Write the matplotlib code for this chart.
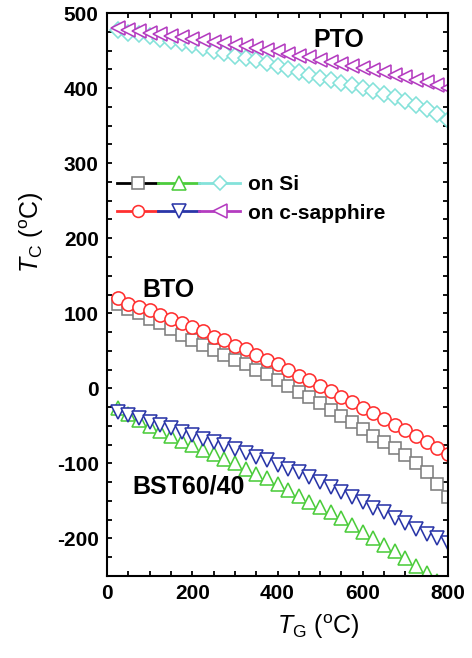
import matplotlib
matplotlib.use("Agg")
import matplotlib.pyplot as plt
from matplotlib.lines import Line2D
from matplotlib.legend_handler import HandlerTuple
from matplotlib.ticker import MultipleLocator

plt.rcParams['font.family'] = ['Liberation Sans', 'DejaVu Sans']
plt.rcParams['mathtext.fontset'] = 'custom'
plt.rcParams['mathtext.rm'] = 'Liberation Sans'
plt.rcParams['mathtext.it'] = 'Liberation Sans:italic'
plt.rcParams['mathtext.bf'] = 'Liberation Sans:bold'
plt.rcParams['axes.unicode_minus'] = False

# Growth temperature T_G (deg C)
tg = [25, 50, 75, 100, 125, 150, 175, 200, 225, 250, 275, 300, 325, 350, 375, 400,
      425, 450, 475, 500, 525, 550, 575, 600, 625, 650, 675, 700, 725, 750, 775, 800]

# BTO
bto_si = [113, 106, 100, 93, 87, 79, 71, 65, 58, 51, 45, 38, 32, 25, 19, 11,
          3, -5, -12, -20, -29, -37, -45, -54, -63, -71, -80, -89, -99, -112, -127, -145]
bto_sap = [120, 113, 109, 104, 98, 92, 87, 82, 76, 69, 64, 57, 52, 45, 38, 32,
           25, 17, 11, 3, -4, -11, -18, -26, -33, -41, -49, -56, -64, -72, -79, -87]
# BST60/40
bst_si = [-26, -34, -42, -50, -57, -63, -70, -76, -82, -88, -94, -100, -107, -114, -120, -128,
          -136, -144, -151, -158, -165, -173, -182, -191, -200, -209, -217, -226, -236, -246, -256, -266]
bst_sap = [-31, -36, -40, -45, -49, -53, -58, -62, -67, -72, -76, -81, -86, -92, -96, -102,
           -107, -112, -118, -125, -131, -138, -145, -151, -159, -165, -173, -180, -187, -194, -199, -206]
# PTO
pto_si = [477, 474, 472, 469, 466, 463, 460, 457, 454, 450, 447, 443, 440, 437, 433, 430,
          426, 422, 418, 414, 411, 407, 404, 400, 396, 392, 388, 383, 378, 372, 365, 357]
pto_sap = [480, 478, 476, 474, 472, 470, 468, 466, 464, 462, 460, 458, 456, 453, 451, 449,
           446, 443, 441, 438, 435, 432, 430, 427, 424, 421, 418, 415, 411, 408, 404, 400]

x_ticks = [0, 200, 400, 600, 800]
y_ticks = [-200, -100, 0, 100, 200, 300, 400, 500]
legend_labels = ['on Si', 'on c-sapphire']

C_GRAY = '#7d7d7d'
C_GREEN = '#4ccc3c'
C_CYAN = '#84e2da'
C_RED = '#ff3030'
C_BLUE = '#2a36a8'
C_MAG = '#b43cc0'

fig = plt.figure(figsize=(4.72, 6.58), dpi=100)
ax = fig.add_axes([0.2267, 0.1246, 0.7225, 0.8556])

mew = 1.15
series = [
    (pto_si, 'D', C_CYAN, 8.0),
    (pto_sap, '<', C_MAG, 10.5),
    (bto_si, 's', C_GRAY, 8.5),
    (bto_sap, 'o', C_RED, 9.5),
    (bst_si, '^', C_GREEN, 10.5),
    (bst_sap, 'v', C_BLUE, 10.5),
]
for ys, m, c, ms in series:
    ax.plot(tg, ys, linestyle='none', marker=m, markersize=ms,
            markerfacecolor='white', markeredgecolor=c, markeredgewidth=mew,
            clip_on=True)

ax.set_xlim(0, 800)
ax.set_ylim(-250, 500)
ax.set_xticks(x_ticks)
ax.set_yticks(y_ticks)
ax.xaxis.set_minor_locator(MultipleLocator(50))
ax.yaxis.set_minor_locator(MultipleLocator(25))
ax.tick_params(which='both', direction='in', top=True, right=True,
               length=3.5, width=1.3)
ax.tick_params(which='major', labelsize=15, pad=6)
for lab in ax.get_xticklabels() + ax.get_yticklabels():
    lab.set_fontweight('bold')
for s in ax.spines.values():
    s.set_linewidth(1.5)

ax.set_xlabel(r'$T_{\mathregular{G}}$ ($^{\mathregular{o}}$C)', fontsize=18)
ax.set_ylabel(r'$T_{\mathregular{C}}$ ($^{\mathregular{o}}$C)', fontsize=18)
ax.xaxis.set_label_coords(0.62, -0.064)
ax.yaxis.set_label_coords(-0.18, 0.61)

ax.text(544, 464, 'PTO', fontsize=18, fontweight='bold', ha='center', va='center')
ax.text(82, 131, 'BTO', fontsize=18, fontweight='bold', ha='left', va='center')
ax.text(59, -131, 'BST60/40', fontsize=18, fontweight='bold', ha='left', va='center')

def h(c, m, ms, lc=None):
    return Line2D([], [], color=lc if lc else c, linewidth=2.0, marker=m, markersize=ms,
                  markerfacecolor='white', markeredgecolor=c, markeredgewidth=mew)

row1 = (h(C_GRAY, 's', 8.0, lc='black'), h(C_GREEN, '^', 9.5), h(C_CYAN, 'D', 7.0))
row2 = (h(C_RED, 'o', 8.5), h(C_BLUE, 'v', 9.5), h(C_MAG, '<', 9.5))
leg = ax.legend([row1, row2], legend_labels,
                handler_map={tuple: HandlerTuple(ndivide=None, pad=0.0)},
                handlelength=5.9, handletextpad=0.4, labelspacing=0.45,
                loc='upper left', bbox_to_anchor=(0.03, 0.712),
                borderpad=0, borderaxespad=0, frameon=False,
                prop={'weight': 'bold', 'size': 15})

fig.savefig('out.png', dpi=100)
